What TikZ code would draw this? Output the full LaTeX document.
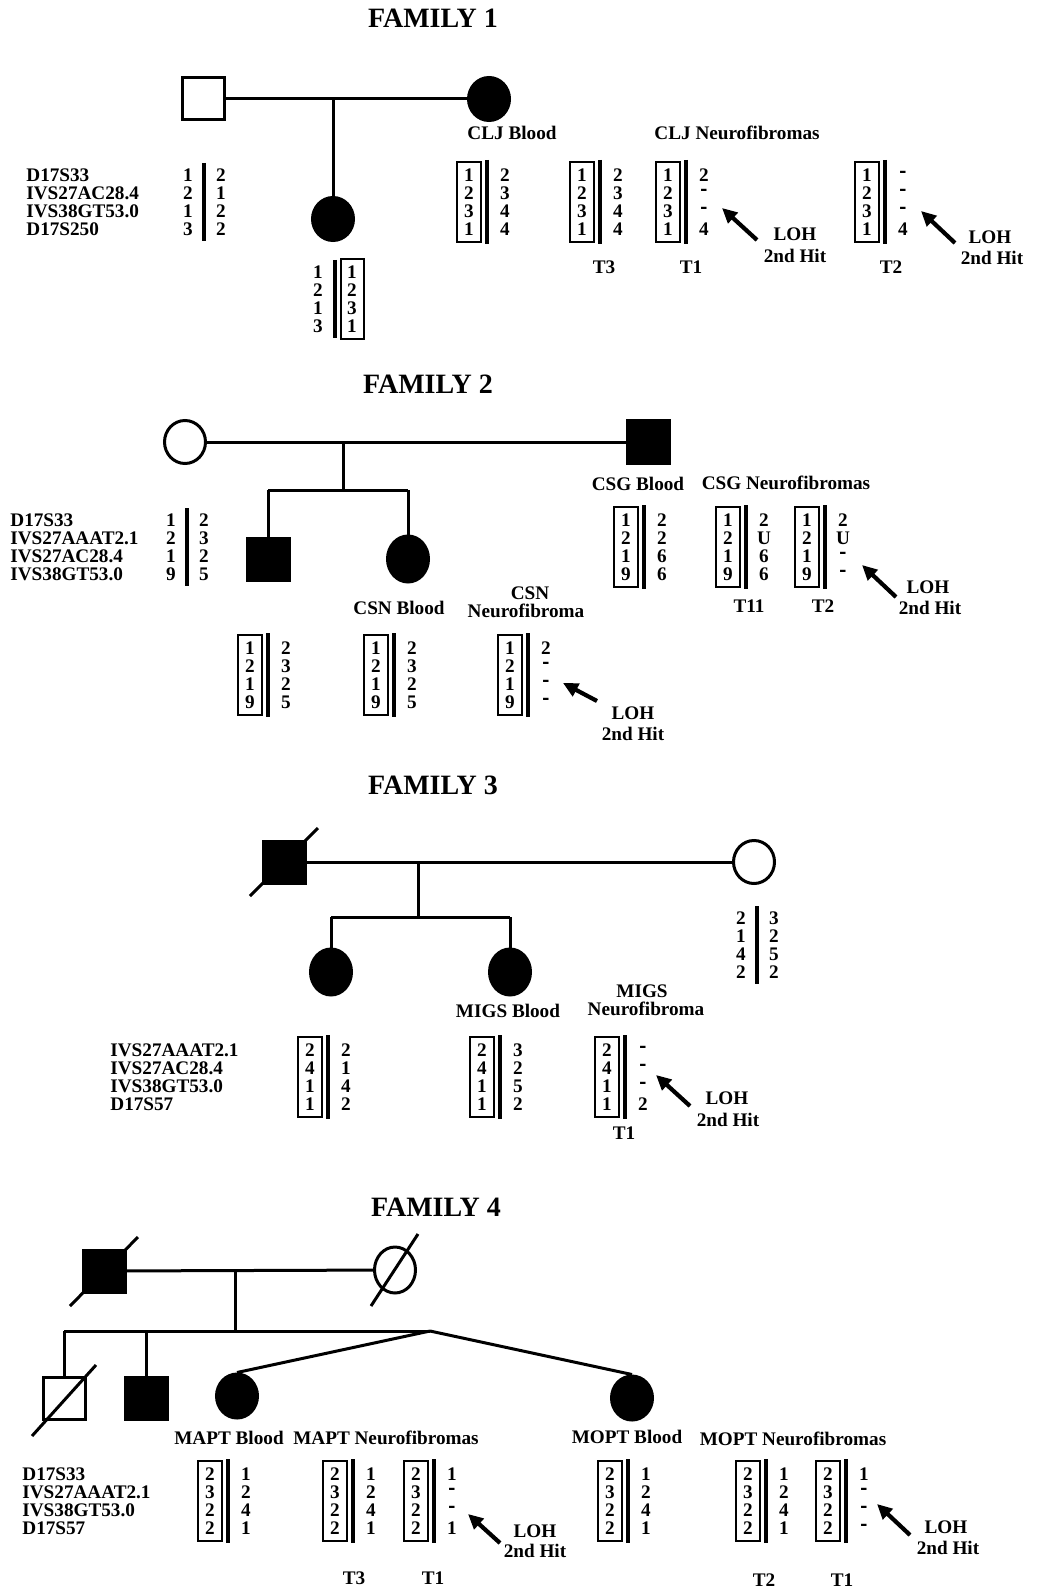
\documentclass[tikz,border=0pt]{standalone}
\usepackage{fontspec}
\setmainfont{Liberation Serif}
\usetikzlibrary{arrows.meta,shapes.geometric}
\newcommand{\dsh}{\scalebox{1.1}[1.35]{-}}
\newcommand{\hapblock}[5]{%
  \draw[hbox] (#2-12,#3-13) rectangle (#2+12,#3+67);
  \draw[hbar] (#2+18,#3-15) -- (#2+18,#3+69);
  \foreach \v [count=\i] in {#4} {\node (#1b\i) at (#2,#3+18*\i-18) {\v};}
  \foreach \v [count=\i] in {#5} {\node (#1f\i) at (#2+36,#3+18*\i-18) {\v};}
}
\newcommand{\parblock}[5]{%
  \draw[hbar] (#2+16,#3-12) -- (#2+16,#3+66);
  \foreach \v [count=\i] in {#4} {\node (#1l\i) at (#2,#3+18*\i-18) {\v};}
  \foreach \v [count=\i] in {#5} {\node (#1r\i) at (#2+33,#3+18*\i-18) {\v};}
}
\newcommand{\markerlist}[4]{%
  \foreach \v [count=\i] in {#4} {\node[anchor=west] (#1\i) at (#2,#3+18*\i-18) {\v};}
}
\begin{document}
\begin{tikzpicture}[x=0.5pt,y=-0.5pt,
  every node/.style={font=\fontsize{9.6}{10}\selectfont\bfseries, inner sep=0pt},
  ttl/.style={font=\fontsize{14}{16}\selectfont\bfseries},
  ped/.style={line width=1.5pt},
  sqo/.style={draw, rectangle, line width=1.5pt, minimum size=21pt},
  sqf/.style={sqo, fill=black},
  cio/.style={draw, ellipse, line width=1.5pt, minimum width=20.5pt, minimum height=21.5pt},
  cif/.style={cio, fill=black},
  hbox/.style={draw, line width=1.4pt},
  hbar/.style={line width=1.6pt},
  loharrow/.style={line width=2.1pt, -{Triangle[length=7.5pt,width=7pt]}},
]
\useasboundingbox (0,0) rectangle (1044,1593);

% ================= FAMILY 1 =================
\node[ttl] (t1) at (433,18) {FAMILY 1};
\node[sqo] (f1fa) at (203,99) {};
\node[cif] (f1mo) at (489,99) {};
\draw[ped] (f1fa) -- (f1mo);
\coordinate (f1j) at (333,99);
\node[cif] (f1d) at (333,219) {};
\draw[ped] (f1j) -- (f1d);

\markerlist{f1m}{26}{175}{D17S33,IVS27AC28.4,IVS38GT53.0,D17S250}
\parblock{f1p}{188}{175}{1,2,1,3}{2,1,2,2}

% daughter haplotype
\draw[hbar] (335,260) -- (335,338);
\draw[hbox] (341,259) rectangle (364,339);
\foreach \v [count=\i] in {1,2,1,3} {\node (f1dl\i) at (318,272+18*\i-18) {\v};}
\foreach \v [count=\i] in {1,2,3,1} {\node (f1db\i) at (352,272+18*\i-18) {\v};}

\node (f1cbl) at (512,133) {CLJ Blood};
\hapblock{f1cb}{469}{175}{1,2,3,1}{2,3,4,4}
\node (f1nl) at (737,133) {CLJ Neurofibromas};
\hapblock{f1t3}{582}{175}{1,2,3,1}{2,3,4,4}
\node (f1t3l) at (604,267) {T3};
\hapblock{f1t1}{668}{175}{1,2,3,1}{2,\dsh,\dsh,4}
\node (f1t1l) at (691,267) {T1};
\coordinate (f1a1s) at (757,240); \coordinate (f1a1e) at (722,208);
\draw[loharrow] (f1a1s) -- (f1a1e);
\node (f1loh1) at (795,234) {LOH};
\node (f1hit1) at (795,256) {2nd Hit};
\hapblock{f1t2}{867}{175}{1,2,3,1}{\dsh,\dsh,\dsh,4}
\node (f1t2l) at (891,267) {T2};
\coordinate (f1a2s) at (955,243); \coordinate (f1a2e) at (921,211);
\draw[loharrow] (f1a2s) -- (f1a2e);
\node (f1loh2) at (990,237) {LOH};
\node (f1hit2) at (992,258) {2nd Hit};

% ================= FAMILY 2 =================
\node[ttl] (t2) at (428,384) {FAMILY 2};
\node[cio] (f2mo) at (185,442) {};
\node[sqf] (f2fa) at (648,442) {};
\draw[ped] (f2mo) -- (f2fa);
\coordinate (f2j) at (343,442); \coordinate (f2s) at (343,490);
\draw[ped] (f2j) -- (f2s);
\coordinate (f2sl) at (268,490); \coordinate (f2sr) at (408,490);
\draw[ped] (f2sl) -- (f2sr);
\node[sqf] (f2c1) at (268,559) {};
\node[cif, minimum height=23pt] (f2c2) at (408,559) {};
\draw[ped] (f2sl) -- (f2c1);
\draw[ped] (f2sr) -- (f2c2);

\markerlist{f2m}{10}{520}{D17S33,IVS27AAAT2.1,IVS27AC28.4,IVS38GT53.0}
\parblock{f2p}{171}{520}{1,2,1,9}{2,3,2,5}

\node (f2cgl) at (638,484) {CSG Blood};
\hapblock{f2cg}{626}{520}{1,2,1,9}{2,2,6,6}
\node (f2nl) at (786,483) {CSG Neurofibromas};
\hapblock{f2t11}{728}{520}{1,2,1,9}{2,U,6,6}
\node (f2t11l) at (749,606) {T11};
\hapblock{f2t2}{807}{520}{1,2,1,9}{2,U,\dsh,\dsh}
\node (f2t2l) at (823,606) {T2};
\coordinate (f2a1s) at (896,597); \coordinate (f2a1e) at (862,565);
\draw[loharrow] (f2a1s) -- (f2a1e);
\node (f2loh1) at (928,587) {LOH};
\node (f2hit1) at (930,608) {2nd Hit};

\node (f2cbl) at (399,608) {CSN Blood};
\node (f2cnl1) at (530,593) {CSN};
\node (f2cnl2) at (526,611) {Neurofibroma};
\hapblock{f2s1}{250}{648}{1,2,1,9}{2,3,2,5}
\hapblock{f2cb}{376}{648}{1,2,1,9}{2,3,2,5}
\hapblock{f2cn}{510}{648}{1,2,1,9}{2,\dsh,\dsh,\dsh}
\coordinate (f2a2s) at (597,701); \coordinate (f2a2e) at (563,683);
\draw[loharrow] (f2a2s) -- (f2a2e);
\node (f2loh2) at (633,713) {LOH};
\node (f2hit2) at (633,734) {2nd Hit};

% ================= FAMILY 3 =================
\node[ttl] (t3) at (433,785) {FAMILY 3};
\node[sqf] (f3fa) at (284,862) {};
\coordinate (f3xa) at (250,896); \coordinate (f3xb) at (318,828);
\draw[ped] (f3xa) -- (f3xb);
\node[cio] (f3mo) at (754,862) {};
\draw[ped] (f3fa) -- (f3mo);
\coordinate (f3j) at (418,862); \coordinate (f3s) at (418,917);
\draw[ped] (f3j) -- (f3s);
\coordinate (f3sl) at (331,917); \coordinate (f3sr) at (510,917);
\draw[ped] (f3sl) -- (f3sr);
\node[cif, minimum height=23pt] (f3c1) at (331,972) {};
\node[cif, minimum height=23pt] (f3c2) at (510,972) {};
\draw[ped] (f3sl) -- (f3c1);
\draw[ped] (f3sr) -- (f3c2);

\parblock{f3p}{741}{918}{2,1,4,2}{3,2,5,2}
\node (f3mbl) at (508,1011) {MIGS Blood};
\node (f3mnl1) at (642,991) {MIGS};
\node (f3mnl2) at (646,1009) {Neurofibroma};
\markerlist{f3m}{110}{1050}{IVS27AAAT2.1,IVS27AC28.4,IVS38GT53.0,D17S57}
\hapblock{f3c1h}{310}{1050}{2,4,1,1}{2,1,4,2}
\hapblock{f3mb}{482}{1050}{2,4,1,1}{3,2,5,2}
\hapblock{f3mn}{607}{1050}{2,4,1,1}{\dsh,\dsh,\dsh,2}
\node (f3t1l) at (624,1133) {T1};
\coordinate (f3a1s) at (690,1106); \coordinate (f3a1e) at (656,1075);
\draw[loharrow] (f3a1s) -- (f3a1e);
\node (f3loh) at (727,1098) {LOH};
\node (f3hit) at (728,1120) {2nd Hit};

% ================= FAMILY 4 =================
\node[ttl] (t4) at (436,1207) {FAMILY 4};
\node[sqf] (f4fa) at (104,1271) {};
\coordinate (f4xa) at (70,1306); \coordinate (f4xb) at (138,1237);
\draw[ped] (f4xa) -- (f4xb);
\node[cio, minimum height=23pt] (f4mo) at (395,1270) {};
\coordinate (f4ya) at (371,1306); \coordinate (f4yb) at (418,1234);
\draw[ped] (f4ya) -- (f4yb);
\draw[ped] (f4fa) -- (f4mo);
\coordinate (f4j) at (235,1271); \coordinate (f4s) at (235,1331);
\draw[ped] (f4j) -- (f4s);
\coordinate (f4sl) at (64,1331); \coordinate (f4sm) at (146,1331); \coordinate (f4tw) at (430,1331);
\draw[ped] (f4sl) -- (f4tw);
\node[sqo] (f4c1) at (64,1398) {};
\coordinate (f4za) at (32,1436); \coordinate (f4zb) at (96,1365);
\draw[ped] (f4za) -- (f4zb);
\node[sqf] (f4c2) at (146,1398) {};
\draw[ped] (f4sl) -- (f4c1);
\draw[ped] (f4sm) -- (f4c2);
\node[cif, minimum height=22pt] (f4c3) at (237,1396) {};
\node[cif, minimum height=22pt] (f4c4) at (632,1398) {};
\draw[ped] (f4tw) -- (f4c3.north);
\draw[ped] (f4tw) -- (f4c4.north);

\node (f4mbl) at (229,1438) {MAPT Blood};
\node (f4mnl) at (386,1438) {MAPT Neurofibromas};
\node (f4obl) at (627,1437) {MOPT Blood};
\node (f4onl) at (793,1439) {MOPT Neurofibromas};
\markerlist{f4m}{22}{1474}{D17S33,IVS27AAAT2.1,IVS38GT53.0,D17S57}
\hapblock{f4mb}{210}{1474}{2,3,2,2}{1,2,4,1}
\hapblock{f4t3}{335}{1474}{2,3,2,2}{1,2,4,1}
\node (f4t3l) at (354,1578) {T3};
\hapblock{f4t1}{416}{1474}{2,3,2,2}{1,\dsh,\dsh,1}
\node (f4t1l) at (433,1578) {T1};
\coordinate (f4a1s) at (500,1543); \coordinate (f4a1e) at (468,1514);
\draw[loharrow] (f4a1s) -- (f4a1e);
\node (f4loh1) at (535,1531) {LOH};
\node (f4hit1) at (535,1551) {2nd Hit};
\hapblock{f4ob}{610}{1474}{2,3,2,2}{1,2,4,1}
\hapblock{f4ot2}{748}{1474}{2,3,2,2}{1,2,4,1}
\node (f4ot2l) at (764,1580) {T2};
\hapblock{f4ot1}{828}{1474}{2,3,2,2}{1,\dsh,\dsh,\dsh}
\node (f4ot1l) at (842,1580) {T1};
\coordinate (f4a2s) at (910,1535); \coordinate (f4a2e) at (877,1504);
\draw[loharrow] (f4a2s) -- (f4a2e);
\node (f4loh2) at (946,1527) {LOH};
\node (f4hit2) at (948,1548) {2nd Hit};
\end{tikzpicture}
\end{document}
